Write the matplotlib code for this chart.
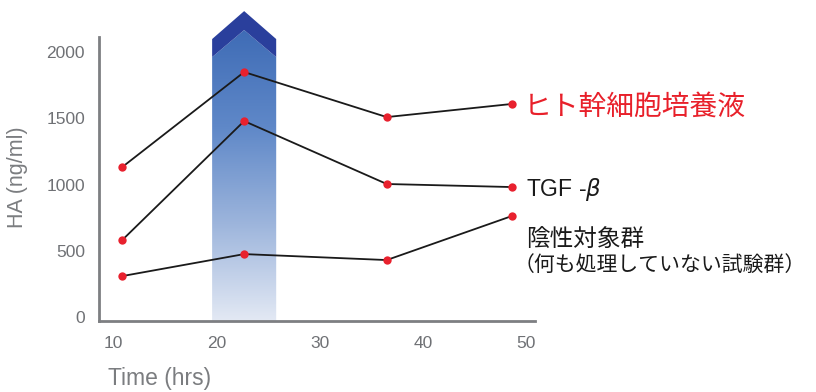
import numpy as np
import matplotlib
matplotlib.use("Agg")
import matplotlib.pyplot as plt
from matplotlib.patches import Polygon
from matplotlib.colors import LinearSegmentedColormap

# ---- data ----
time_hrs = [10.9, 22.7, 36.5, 48.6]
hsc_medium = [1132, 1849, 1509, 1608]
tgf_beta = [581, 1479, 1004, 981]
negative = [309, 475, 430, 762]

x_ticks = [10, 20, 30, 40, 50]
y_ticks = [0, 500, 1000, 1500, 2000]

band_x0, band_x1 = 19.6, 25.8

label_hsc = "ヒト幹細胞培養液"
label_tgf = r"TGF -$\beta$"
label_neg1 = "陰性対象群"
label_neg2 = "（何も処理していない試験群）"

plt.rcParams['font.family'] = ['Liberation Sans', 'Noto Sans CJK JP', 'DejaVu Sans']

W, H = 816, 392
fig = plt.figure(figsize=(W / 100, H / 100), dpi=100)
left_px, right_px = 99, 535
bottom_px, top_px = 321, 5
ax = fig.add_axes([left_px / W, 1 - bottom_px / H, (right_px - left_px) / W, (bottom_px - top_px) / H])

ymin, ymax = -30, 2355
ax.set_xlim(8.65, 50.85)
ax.set_ylim(ymin, ymax)

for s in ['top', 'right']:
    ax.spines[s].set_visible(False)
ax.spines['left'].set_bounds(ymin, 2113)
for s in ['left', 'bottom']:
    ax.spines[s].set_color('#7d7f82')
    ax.spines[s].set_linewidth(2)

ax.set_xticks(x_ticks)
ax.set_yticks(y_ticks)
ax.tick_params(length=0, colors='#6f7175', labelsize=12.5)
ax.tick_params(axis='y', pad=10)
ax.tick_params(axis='x', pad=11)

# gradient band with chevron top
bx_c = (band_x0 + band_x1) / 2
inner_side, inner_peak = 1962, 2166
outer_side, outer_peak = 2098, 2309
cmap = LinearSegmentedColormap.from_list('band', ['#e3e9f4', '#9db5dc', '#5f88c8', '#3f6cb6'])
grad = np.linspace(0, 1, 256).reshape(-1, 1)
im = ax.imshow(grad, cmap=cmap, origin='lower', aspect='auto',
               extent=[band_x0, band_x1, ymin, inner_peak], zorder=1)
clip = Polygon([(band_x0, ymin), (band_x0, inner_side), (bx_c, inner_peak),
                (band_x1, inner_side), (band_x1, ymin)], closed=True,
               transform=ax.transData, facecolor='none', edgecolor='none')
ax.add_patch(clip)
im.set_clip_path(clip)
chev = Polygon([(band_x0, inner_side), (band_x0, outer_side), (bx_c, outer_peak),
                (band_x1, outer_side), (band_x1, inner_side), (bx_c, inner_peak)],
               closed=True, facecolor='#2a3f9c', edgecolor='none', zorder=1, clip_on=False)
ax.add_patch(chev)

for series in (hsc_medium, tgf_beta, negative):
    ax.plot(time_hrs, series, color='#1a1a1a', lw=1.3, zorder=2, clip_on=False)
    ax.scatter(time_hrs, series, s=36, color='#e8212e', zorder=3, clip_on=False, linewidths=0)

# axis labels
fig.text(18 / W, 1 - 177 / H, "HA (ng/ml)", rotation=90, ha='center', va='center',
         fontsize=15.5, color='#7b7d80')
fig.text(160 / W, 1 - 378 / H, "Time (hrs)", ha='center', va='center',
         fontsize=16.5, color='#7b7d80')

# series labels
fig.text(524 / W, 1 - 107 / H, label_hsc, ha='left', va='center', fontsize=20,
         color='#e8202a', family=['Noto Sans CJK JP'])
fig.text(526 / W, 1 - 190 / H, label_tgf, ha='left', va='center', fontsize=16.5,
         color='#1a1a1a')
fig.text(526 / W, 1 - 240 / H, label_neg1, ha='left', va='center', fontsize=17,
         color='#1a1a1a', family=['Noto Sans CJK JP'])
fig.text(514 / W, 1 - 265 / H, label_neg2, ha='left', va='center', fontsize=15,
         color='#1a1a1a', family=['Noto Sans CJK JP'])

fig.savefig('out.png', dpi=100)
